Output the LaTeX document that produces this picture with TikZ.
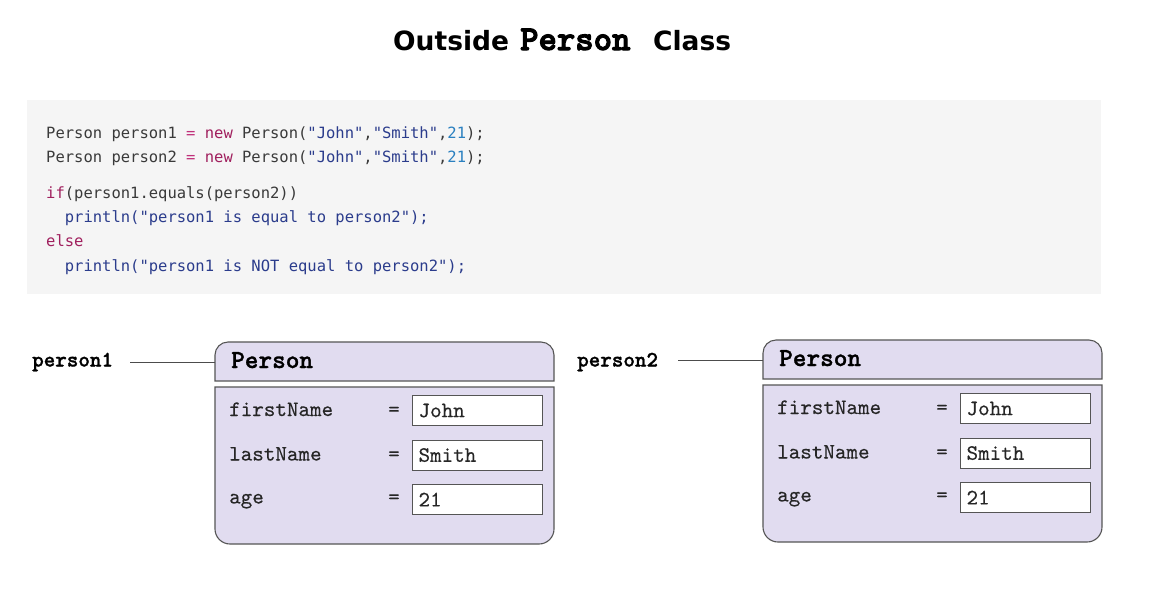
\documentclass[tikz,border=0pt]{standalone}
\usepackage{fontspec}
\newfontfamily\codefont{DejaVu Sans Mono}
\newfontfamily\titlesans{DejaVu Sans}
\newfontfamily\mbold{lmmonolt10-bold.otf}[FakeBold=1.2]
\newfontfamily\mboldt{lmmonolt10-bold.otf}[FakeBold=3]
\newfontfamily\mreg{lmmono10-regular.otf}[FakeBold=0.3]
\definecolor{codebg}{HTML}{F5F5F5}
\definecolor{plain}{HTML}{3A3A3A}
\definecolor{kw}{HTML}{A0205E}
\definecolor{op}{HTML}{C0307A}
\definecolor{str}{HTML}{2B3C8C}
\definecolor{num}{HTML}{2A80C0}
\definecolor{lav}{HTML}{E1DCF0}
\definecolor{edge}{HTML}{555555}
\begin{document}
\begin{tikzpicture}[x=1pt,y=-1pt,
  titletxt/.style={inner sep=0pt,anchor=base west,font=\titlesans\bfseries\fontsize{26.5}{30}\selectfont},
  titlemono/.style={inner sep=0pt,anchor=base west,font=\mboldt\fontsize{35}{38}\selectfont},
  codeline/.style={inner sep=0pt,anchor=base west,text=plain,font=\codefont\fontsize{15.5}{18}\selectfont},
  varlabel/.style={inner sep=0pt,anchor=base west,font=\mbold\fontsize{22}{25}\selectfont},
  hdrtxt/.style={inner sep=0pt,anchor=base west,font=\mbold\fontsize{26}{29}\selectfont},
  fieldtxt/.style={inner sep=0pt,anchor=base west,text=black!85,font=\mreg\fontsize{22}{25}\selectfont},
  valbox/.style={draw=edge,line width=1.1pt,fill=white,anchor=north west,minimum width=130pt,minimum height=30pt,text width=118pt,inner xsep=6pt,inner ysep=0pt,align=left,text=black!85,font=\mreg\fontsize{22}{25}\selectfont},
  boxline/.style={draw=edge,line width=1.1pt,fill=lav},
  refline/.style={draw=black!70,line width=1pt}
]
\useasboundingbox (0,0) rectangle (1156,595);
% title
\node[titletxt] (t1) at (393,50) {Outside};
\node[titlemono] (t2) at (520,50) {Person};
\node[titletxt] (t3) at (653,50) {Class};
% code block
\fill[codebg] (26.5,99.5) rectangle (1100.5,294);
\node[codeline] (c1) at (46,138) {Person person1 \textcolor{op}{=} \textcolor{kw}{new} Person(\textcolor{str}{"John"},\textcolor{str}{"Smith"},\textcolor{num}{21});};
\node[codeline] (c2) at (46,162) {Person person2 \textcolor{op}{=} \textcolor{kw}{new} Person(\textcolor{str}{"John"},\textcolor{str}{"Smith"},\textcolor{num}{21});};
\node[codeline] (c3) at (46,198) {\textcolor{kw}{if}(person1.equals(person2))};
\node[codeline] (c4) at (46,222.5) {\phantom{xx}\textcolor{str}{println("person1 is equal to person2");}};
\node[codeline] (c5) at (46,246.5) {\textcolor{kw}{else}};
\node[codeline] (c6) at (46,271) {\phantom{xx}\textcolor{str}{println("person1 is NOT equal to person2");}};
% object boxes
\foreach \dx/\dy/\nm in {0/0/a, 548/-2/b}{
  \begin{scope}[shift={(\dx,\dy)}]
    \path[boxline] (215,381) [rounded corners=13pt] -- (215,342) -- (554,342) [sharp corners] -- (554,381) -- cycle;
    \path[boxline] (554,387) -- (215,387) [rounded corners=15pt] -- (215,544) -- (554,544) [sharp corners] -- (554,387) -- cycle;
    \coordinate (\nm hw) at (215,362.7);
    \node[hdrtxt] (\nm hdr) at (231,368) {Person};
    \node[fieldtxt] (\nm f1) at (229,416) {firstName};
    \node[fieldtxt] (\nm f2) at (229,460.5) {lastName};
    \node[fieldtxt] (\nm f3) at (229,503.5) {age};
    \node[fieldtxt] (\nm e1) at (388,416) {=};
    \node[fieldtxt] (\nm e2) at (388,460.5) {=};
    \node[fieldtxt] (\nm e3) at (388,503.5) {=};
    \node[valbox] (\nm v1) at (412,395) {John};
    \node[valbox] (\nm v2) at (412,439.5) {Smith};
    \node[valbox] (\nm v3) at (412,484) {21};
  \end{scope}
}
\node[varlabel] (p1) at (32,366.5) {person1};
\node[varlabel] (p2) at (577,366.5) {person2};
\coordinate (p1s) at (130,362.7);
\coordinate (p2s) at (678,360.7);
\draw[refline] (p1s) -- (p1s -| ahw);
\draw[refline] (p2s) -- (p2s -| bhw);
\end{tikzpicture}
\end{document}
